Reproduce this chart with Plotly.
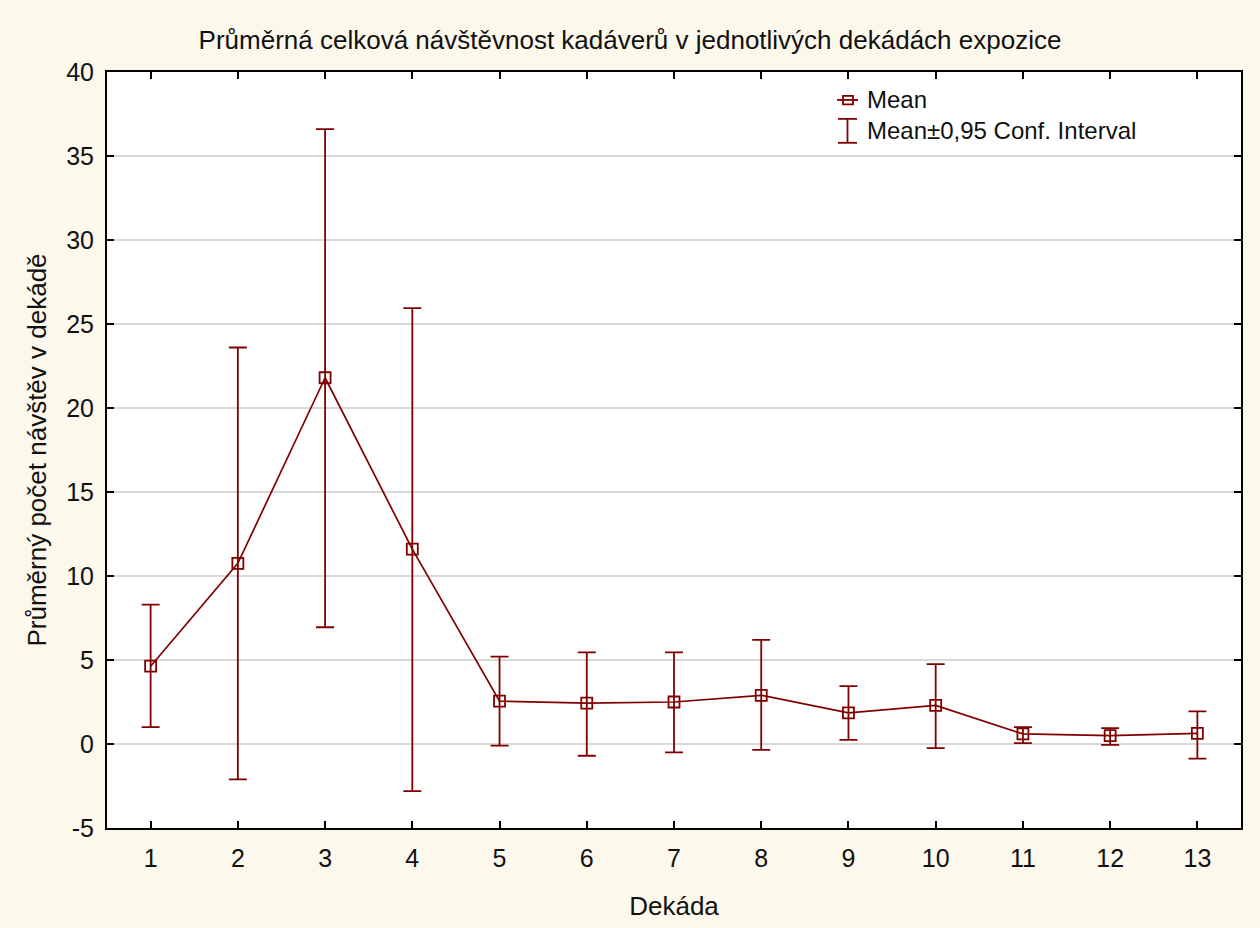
import plotly.graph_objects as go

# Data
dekada = list(range(1, 14))
mean = [4.63, 10.75, 21.8, 11.6, 2.55, 2.43, 2.5, 2.9, 1.85, 2.3, 0.6, 0.5, 0.63]
ci_upper = [8.3, 23.6, 36.6, 25.95, 5.2, 5.45, 5.45, 6.2, 3.45, 4.75, 1.0, 0.95, 1.94]
ci_lower = [1.0, -2.1, 6.95, -2.8, -0.1, -0.7, -0.5, -0.35, 0.25, -0.25, 0.05, -0.05, -0.87]
y_ticks = [-5, 0, 5, 10, 15, 20, 25, 30, 35, 40]
y_ticklabels = ["-5", "0", "5", "10", "15", "20", "25", "30", "35", "40"]

title_text = "Průměrná celková návštěvnost kadáverů v jednotlivých dekádách expozice"
x_title = "Dekáda"
y_title = "Průměrný počet návštěv v dekádě"
legend_labels = ["Mean", "Mean±0,95 Conf. Interval"]

COLOR = "#800000"
BG = "#FDF8EC"
FONT = "Liberation Sans, Arial, sans-serif"
TXT = "#111111"

err_plus = [u - m for u, m in zip(ci_upper, mean)]
err_minus = [m - l for m, l in zip(mean, ci_lower)]

fig = go.Figure()
fig.add_trace(go.Scatter(
    x=dekada, y=mean, mode="lines+markers",
    line=dict(color=COLOR, width=1.7),
    marker=dict(symbol="square-open", size=11, color=COLOR, line=dict(width=1.8, color=COLOR)),
    error_y=dict(type="data", symmetric=False, array=err_plus, arrayminus=err_minus,
                 color=COLOR, thickness=1.8, width=9),
    showlegend=False,
))

# Plot area geometry (pixels)
L, R, T, B = 107, 1241, 72, 830
W, H = R - L, B - T

def px(x):
    return (x - L) / W

def py(y):
    return (B - y) / H

shapes = []
# Legend: Mean icon
shapes.append(dict(type="line", xref="paper", yref="paper", x0=px(837), x1=px(858), y0=py(100), y1=py(100),
                   line=dict(color=COLOR, width=1.8)))
shapes.append(dict(type="rect", xref="paper", yref="paper", x0=px(843), x1=px(853), y0=py(96), y1=py(104.5),
                   line=dict(color=COLOR, width=1.8), fillcolor="rgba(0,0,0,0)"))
# Legend: CI icon
shapes.append(dict(type="line", xref="paper", yref="paper", x0=px(847.5), x1=px(847.5), y0=py(119), y1=py(143),
                   line=dict(color=COLOR, width=1.8)))
shapes.append(dict(type="line", xref="paper", yref="paper", x0=px(838), x1=px(857), y0=py(119), y1=py(119),
                   line=dict(color=COLOR, width=1.8)))
shapes.append(dict(type="line", xref="paper", yref="paper", x0=px(838), x1=px(857), y0=py(143), y1=py(143),
                   line=dict(color=COLOR, width=1.8)))

annotations = [
    dict(text=legend_labels[0], xref="paper", yref="paper", x=px(865), y=py(100), xanchor="left", yanchor="middle",
         showarrow=False, font=dict(family=FONT, size=24, color=TXT)),
    dict(text=legend_labels[1], xref="paper", yref="paper", x=px(865), y=py(131), xanchor="left", yanchor="middle",
         showarrow=False, font=dict(family=FONT, size=24, color=TXT)),
]

fig.update_layout(
    width=1260, height=928,
    paper_bgcolor=BG, plot_bgcolor="white",
    margin=dict(l=L, r=1260 - R, t=T, b=928 - B),
    font=dict(family=FONT, size=25, color=TXT),
    title=dict(text=title_text, x=0.5, xref="container", xanchor="center",
               y=1 - 40 / 928, yref="container", yanchor="middle",
               font=dict(family=FONT, size=26, color=TXT)),
    shapes=shapes, annotations=annotations,
    xaxis=dict(
        range=[0.5, 13.5], tickmode="array", tickvals=dekada, ticktext=[str(d) for d in dekada],
        showgrid=False, zeroline=False, showline=True, linecolor="black", linewidth=2,
        mirror="ticks", ticks="inside", ticklen=7, tickwidth=2, tickcolor="black",
        ticklabelstandoff=7,
        title=dict(text=x_title, standoff=26, font=dict(family=FONT, size=26)),
        tickfont=dict(family=FONT, size=25),
    ),
    yaxis=dict(
        range=[-5, 40], tickmode="array", tickvals=y_ticks, ticktext=y_ticklabels,
        showgrid=True, gridcolor="#D9D9D9", gridwidth=2, zeroline=False,
        showline=True, linecolor="black", linewidth=2,
        mirror="ticks", ticks="inside", ticklen=7, tickwidth=2, tickcolor="black",
        ticklabelstandoff=6,
        title=dict(text=y_title, standoff=12, font=dict(family=FONT, size=26)),
        tickfont=dict(family=FONT, size=25),
    ),
)

fig.write_html("out.html", config={"displayModeBar": False},
               post_script="document.body.style.margin='0';")
